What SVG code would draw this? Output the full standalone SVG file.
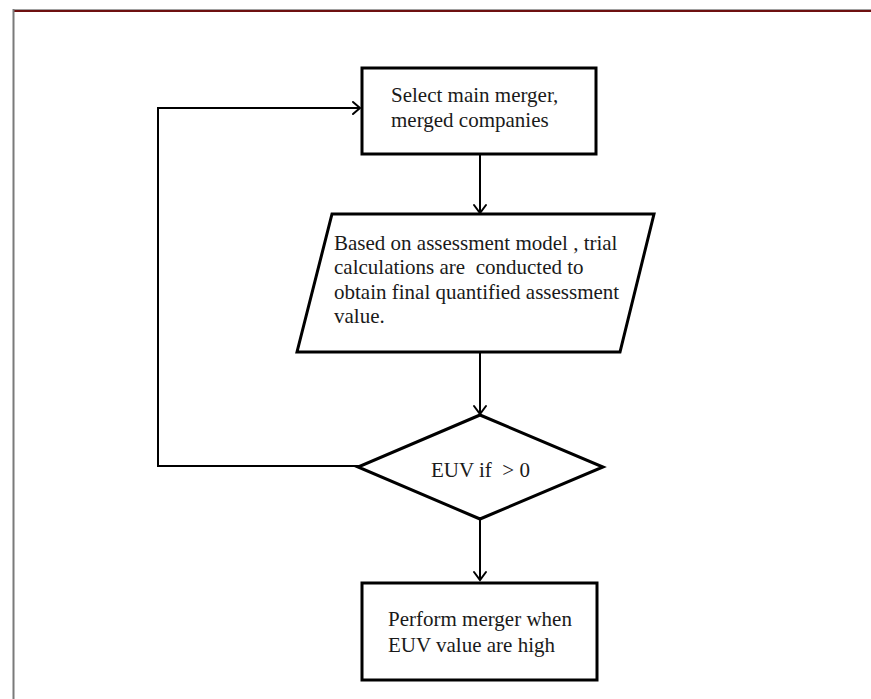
<svg xmlns="http://www.w3.org/2000/svg" width="871" height="699" viewBox="0 0 871 699">
<defs>
<style>
.shape{fill:#fff;stroke:#000;stroke-width:3;stroke-linejoin:miter}
.conn{fill:none;stroke:#000;stroke-width:2}
.head{fill:none;stroke:#000;stroke-width:2;stroke-linecap:round;stroke-linejoin:miter}
text{font-family:"Liberation Serif","Times New Roman",serif;font-size:21px;fill:#1a1a1a;white-space:pre}
</style>
</defs>
<rect width="871" height="699" fill="#fff"/>
<g id="frame">
<line x1="13" y1="9.5" x2="871" y2="9.5" stroke="#a0a0a0" stroke-width="1"/>
<line x1="14" y1="11" x2="871" y2="11" stroke="#6e1010" stroke-width="2"/>
<line x1="13.5" y1="9" x2="13.5" y2="699" stroke="#7a7a7a" stroke-width="2"/>
</g>
<g id="connectors">
<path class="conn" d="M360,466 H158 V108 H360"/>
<path class="head" d="M353,102 L360,108 L353,114"/>
<path class="conn" d="M480,154 V213"/>
<path class="head" d="M474,205 L480,213 L486,205"/>
<path class="conn" d="M480,352 V414"/>
<path class="head" d="M474,406 L480,414 L486,406"/>
<path class="conn" d="M480,520 V580"/>
<path class="head" d="M474,572 L480,580 L486,572"/>
</g>
<g id="select">
<rect class="shape" x="362" y="68" width="234" height="86"/>
<text x="391" y="102">Select main merger,</text>
<text x="391" y="127">merged companies</text>
</g>
<g id="assess">
<polygon class="shape" points="332,214 654,214 620,352 297,352"/>
<text x="334" y="250">Based on assessment model , trial</text>
<text x="334" y="274">calculations are  conducted to</text>
<text x="334" y="299">obtain final quantified assessment</text>
<text x="334" y="323">value.</text>
</g>
<g id="decision">
<polygon class="shape" points="480,415 603,467 480,519 358,467"/>
<text x="431" y="477">EUV if  &gt; 0</text>
</g>
<g id="perform">
<rect class="shape" x="362" y="583" width="235" height="97"/>
<text x="388" y="626">Perform merger when</text>
<text x="388" y="652">EUV value are high</text>
</g>
</svg>
